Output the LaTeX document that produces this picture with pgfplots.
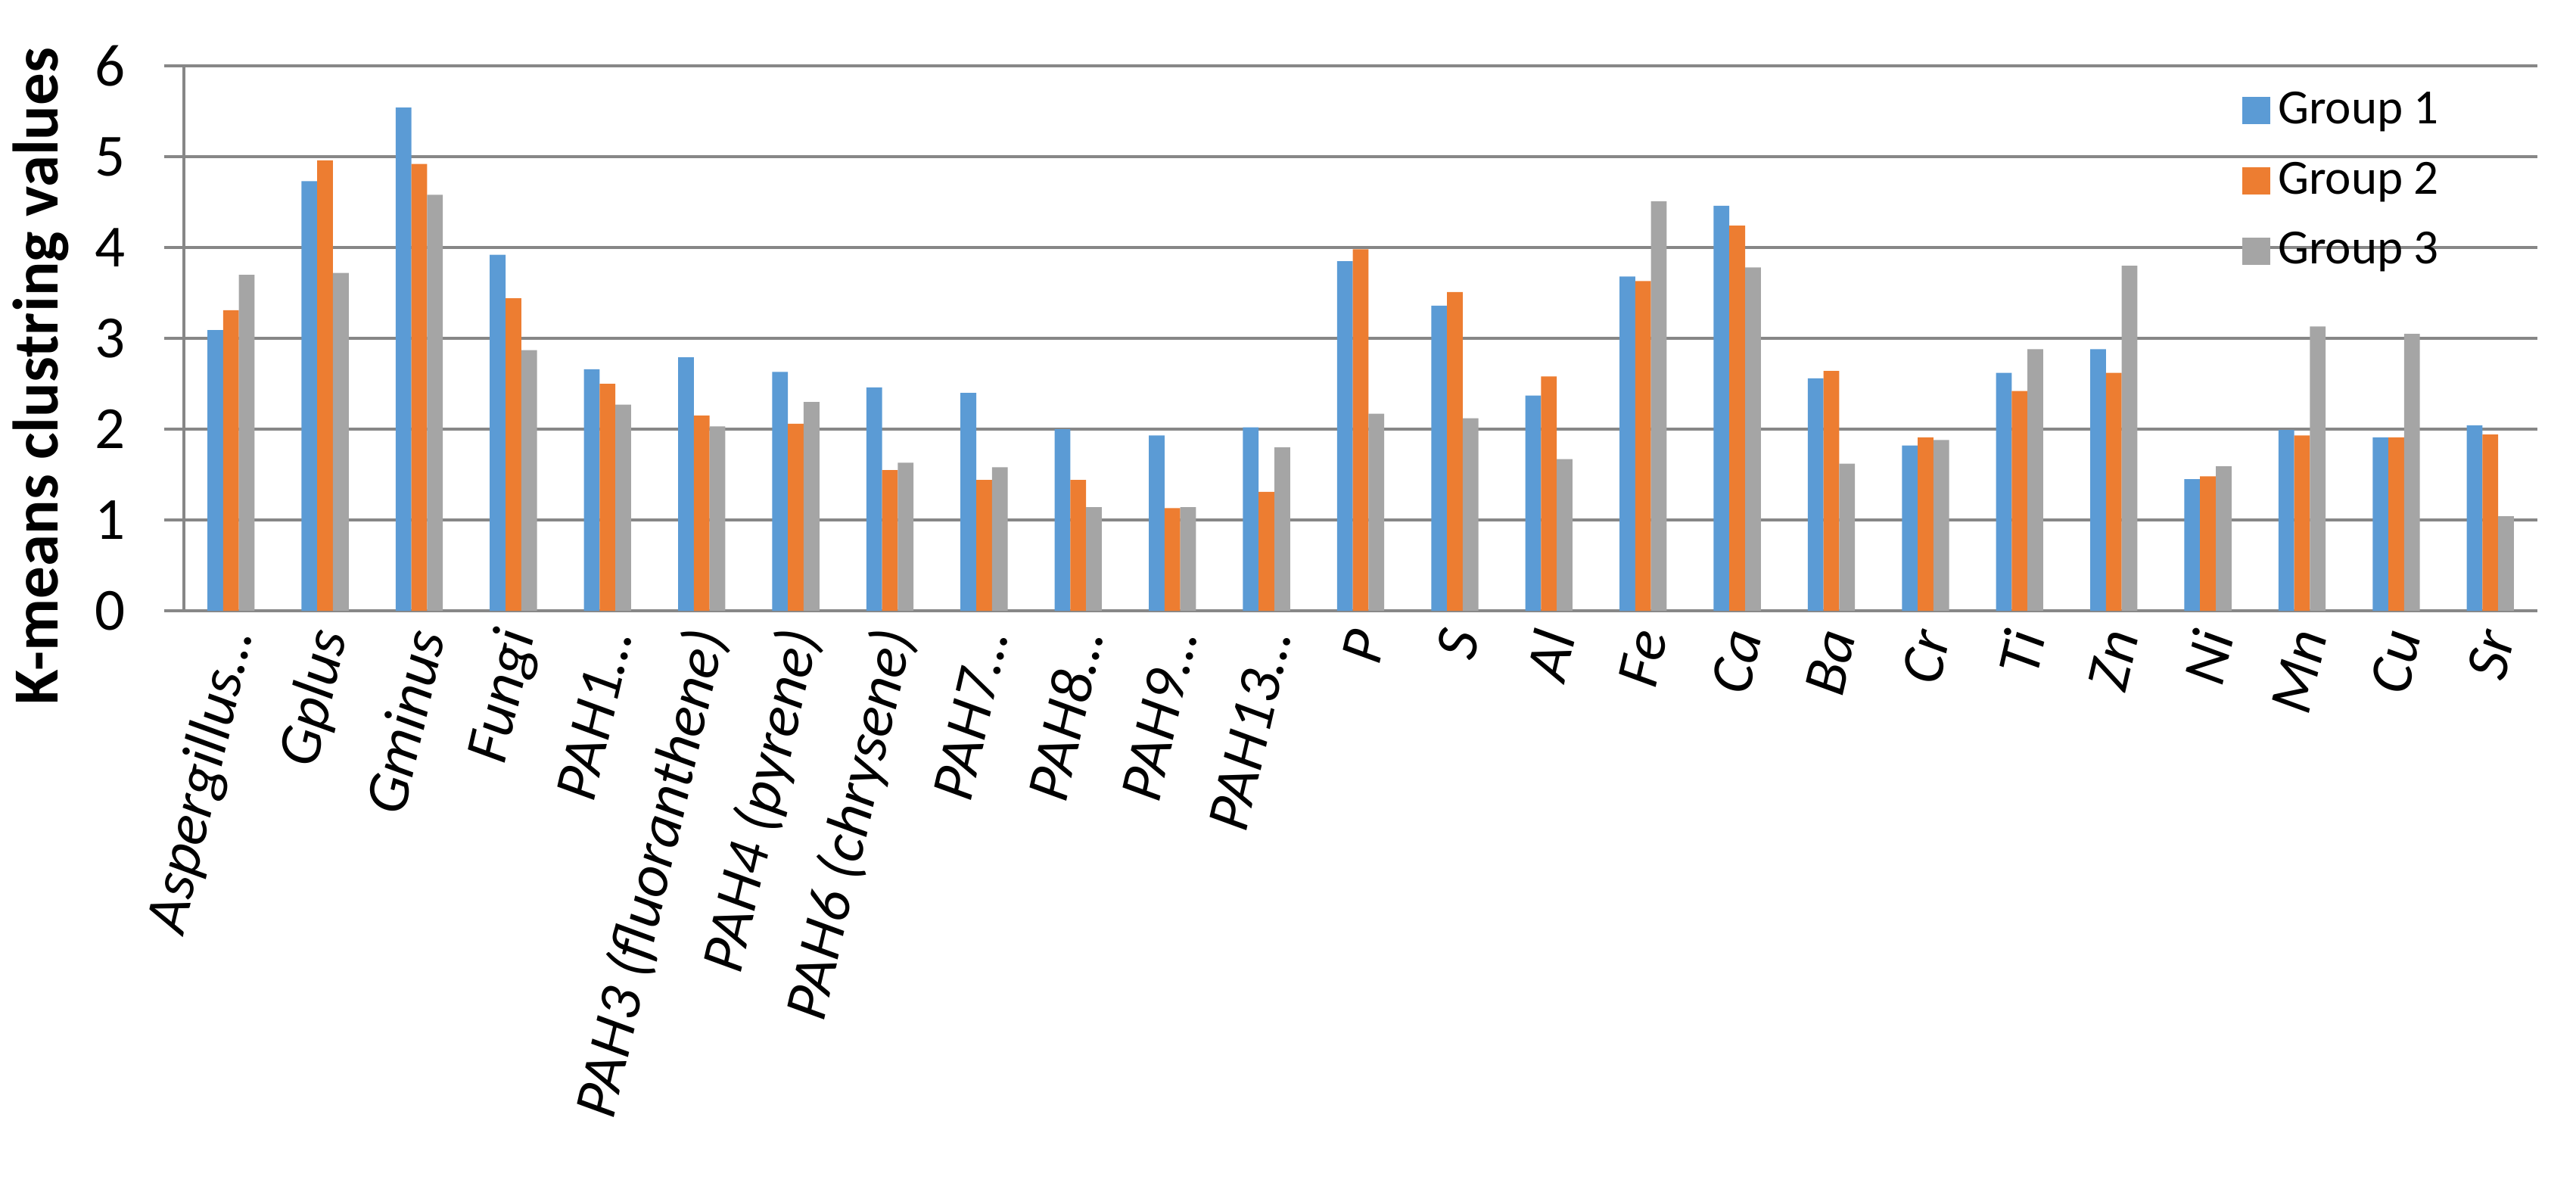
\documentclass[border=0pt]{standalone}
\usepackage{fontspec}
\setmainfont{Carlito}
\usepackage{pgfplots}
\usepackage{pgfplotstable}
\pgfplotsset{compat=1.18}
\definecolor{gone}{HTML}{5B9BD5}
\definecolor{gtwo}{HTML}{ED7D31}
\definecolor{gthree}{HTML}{A5A5A5}
\definecolor{gridgray}{HTML}{878787}
\pgfplotsset{sq legend/.style={legend image code/.code={\fill[##1] (0bp,-3.6bp) rectangle (7.4bp,3.6bp);}}}

% k-means values per variable
\pgfplotstableread{
x  ga   gb   gc
0  3.09 3.31 3.70
1  4.73 4.96 3.72
2  5.54 4.92 4.58
3  3.92 3.44 2.87
4  2.66 2.50 2.27
5  2.79 2.15 2.03
6  2.63 2.06 2.30
7  2.46 1.55 1.63
8  2.40 1.44 1.58
9  2.00 1.44 1.14
10 1.93 1.13 1.14
11 2.02 1.31 1.80
12 3.85 3.98 2.17
13 3.36 3.51 2.12
14 2.37 2.58 1.67
15 3.68 3.63 4.51
16 4.46 4.24 3.78
17 2.56 2.64 1.62
18 1.82 1.91 1.88
19 2.62 2.42 2.88
20 2.88 2.62 3.80
21 1.45 1.48 1.59
22 1.99 1.93 3.13
23 1.91 1.91 3.05
24 2.04 1.94 1.04
}\kmeans

\begin{document}
\begin{tikzpicture}
\begin{axis}[
  width=622bp, height=144bp, scale only axis,
  xmin=-0.5, xmax=24.5, ymin=0, ymax=6,
  ybar=0pt, bar width=0.167,
  axis x line*=bottom, axis y line*=left,
  axis line style={gridgray, line width=0.8bp, -},
  ymajorgrids, grid style={gridgray, line width=0.8bp},
  ytick={0,1,...,6},
  tick align=outside, major tick length=5.2bp,
  ytick style={gridgray, line width=0.8bp},
  xtick={0,1,...,24},
  major x tick style={draw=none},
  xticklabels={Aspergillus…, Gplus, Gminus, Fungi, PAH1…, PAH3 (fluoranthene), PAH4 (pyrene), PAH6 (chrysene), PAH7…, PAH8…, PAH9…, PAH13…, P, S, Al, Fe, Ca, Ba, Cr, Ti, Zn, Ni, Mn, Cu, Sr},
  /pgf/number format/assume math mode=true,
  yticklabel style={font=\fontsize{15.8bp}{18bp}\selectfont, inner sep=0pt, xshift=-10bp},
  xticklabel style={font=\fontsize{16bp}{18bp}\selectfont\itshape, xshift=1.7bp, rotate=77, anchor=east, inner sep=0pt},
  ylabel={K-means clustring values},
  ylabel style={font=\fontsize{17bp}{19bp}\selectfont\bfseries, at={(axis description cs:-0.0609,0.4306)}, anchor=center},
  legend style={at={(axis description cs:0.8695,0.981)}, anchor=north west, draw=none, fill=none,
    font=\fontsize{13bp}{15bp}\selectfont, row sep=4.6bp},
  legend cell align=left,
]
\addplot[fill=gone, draw=none, sq legend] table[x=x, y=ga] {\kmeans};
\addlegendentry{Group 1}
\addplot[fill=gtwo, draw=none, sq legend] table[x=x, y=gb] {\kmeans};
\addlegendentry{Group 2}
\addplot[fill=gthree, draw=none, sq legend] table[x=x, y=gc] {\kmeans};
\addlegendentry{Group 3}
\end{axis}
\pgfresetboundingbox
\useasboundingbox (-48.6bp,-152.8bp) rectangle (632.2bp,161.4bp);
\end{tikzpicture}
\end{document}
